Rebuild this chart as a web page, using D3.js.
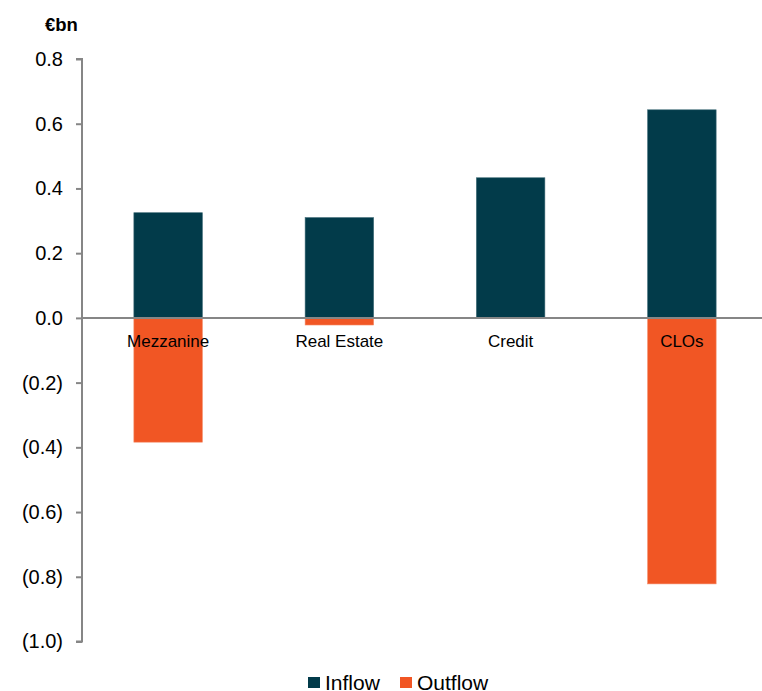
<!DOCTYPE html>
<html>
<head>
<meta charset="utf-8">
<script src="https://cdn.jsdelivr.net/npm/d3@7"></script>
<style>
  body { margin: 0; background: #fff; }
  svg { display: block; font-family: "Liberation Sans", Arial, sans-serif; }
</style>
</head>
<body>
<svg id="chart" width="762" height="691"></svg>
<script>
// Fund flows by strategy, €bn
const categories = ["Mezzanine", "Real Estate", "Credit", "CLOs"];
const inflow = [0.325, 0.31, 0.433, 0.643];
const outflow = [-0.384, -0.022, 0, -0.822];
const yTicks = [0.8, 0.6, 0.4, 0.2, 0.0, -0.2, -0.4, -0.6, -0.8, -1.0];
const seriesNames = ["Inflow", "Outflow"];
const colors = ["#023B4A", "#F15624"];
const edgeColors = ["#3F6A76", "#F48A66"];

const svg = d3.select("#chart");
const x0 = 82, x1 = 767;
const y = d3.scaleLinear().domain([-1.0, 0.8]).range([641.5, 59]);
const x = d3.scaleBand().domain(categories).range([x0, x1]).paddingInner(0.6).paddingOuter(0.3);

// bars
const g = svg.append("g");
seriesNames.forEach((s, si) => {
  const vals = si === 0 ? inflow : outflow;
  g.selectAll(null).data(categories.map((c, i) => ({ c, v: vals[i] })).filter(d => d.v !== 0))
    .enter().append("rect")
    .attr("x", d => x(d.c) + 0.5)
    .attr("width", x.bandwidth())
    .attr("y", d => y(Math.max(0, d.v)))
    .attr("height", d => Math.abs(y(d.v) - y(0)))
    .attr("fill", colors[si])
    .attr("stroke", edgeColors[si])
    .attr("stroke-width", 0.6);
});

// y axis
const yAxis = d3.axisLeft(y).tickValues(yTicks).tickSize(6).tickPadding(13)
  .tickFormat(v => {
    const s = Math.abs(v).toFixed(1);
    return v < -1e-9 ? "(" + s + ")" : s;
  });
const ya = svg.append("g").attr("transform", `translate(${x0},0)`).call(yAxis);
ya.select(".domain").attr("stroke", "#868686").attr("stroke-width", 2)
  .attr("d", `M-6,${y(0.8)}H0V${y(-1.0)}H-6`);
ya.selectAll(".tick line").attr("stroke", "#868686").attr("stroke-width", 2);
ya.selectAll(".tick text").attr("fill", "#000").style("font-size", "20px")
  .style("font-family", "'Liberation Sans', Arial, sans-serif");

// zero line
svg.append("line").attr("x1", x0).attr("x2", 762).attr("y1", y(0)).attr("y2", y(0))
  .attr("stroke", "#868686").attr("stroke-width", 2);

// category labels
svg.selectAll(".cat").data(categories).enter().append("text")
  .attr("x", d => x(d) + x.bandwidth() / 2 + 0.5)
  .attr("y", y(0) + 29)
  .attr("text-anchor", "middle")
  .style("font-size", "17px")
  .attr("fill", "#000")
  .text(d => d);

// unit label
svg.append("text").attr("x", 45).attr("y", 31).style("font-size", "18.5px")
  .style("font-weight", "bold").text("€bn");

// legend
const legendX = [308, 400];
seriesNames.forEach((s, i) => {
  svg.append("rect").attr("x", legendX[i]).attr("y", 677).attr("width", 12).attr("height", 11)
    .attr("fill", colors[i]);
  svg.append("text").attr("x", legendX[i] + 17).attr("y", 690).style("font-size", "21px")
    .attr("fill", "#000").text(s);
});
</script>
</body>
</html>
